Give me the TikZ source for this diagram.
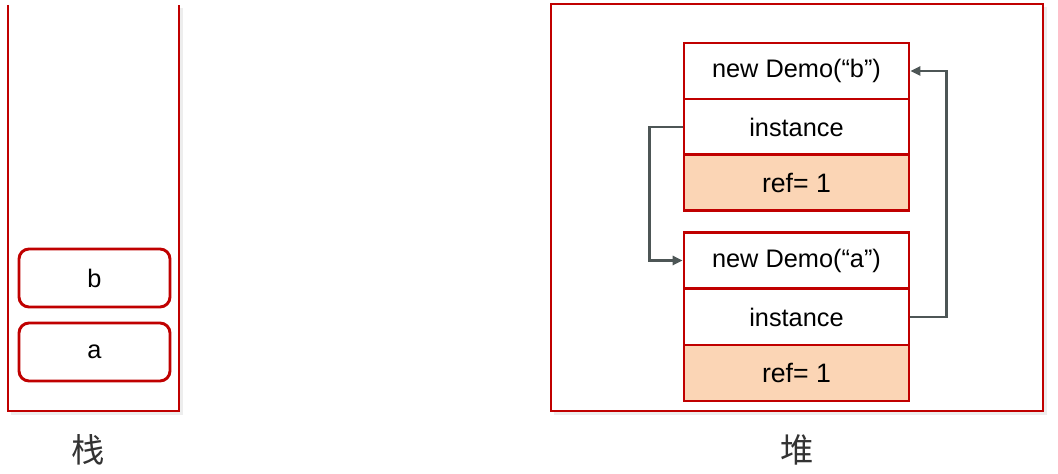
\documentclass[tikz,border=0pt]{standalone}
\usepackage{fontspec}
\setmainfont{Liberation Sans}
\newfontfamily\cjk{Noto Sans CJK SC}
\usetikzlibrary{arrows.meta}
\definecolor{boxred}{HTML}{C00000}
\definecolor{reffill}{HTML}{FBD5B5}
\definecolor{linkgray}{HTML}{4D5656}
\tikzset{
  cell/.style={draw=boxred,line width=2.2pt,minimum width=168.75pt,minimum height=42pt,inner sep=0pt,font=\fontsize{19}{22}\selectfont},
  refcell/.style={cell,fill=reffill,font=\fontsize{20}{23}\selectfont},
  slot/.style={draw=boxred,line width=2.2pt,rounded corners=7.5pt,minimum width=113.25pt,minimum height=43.5pt,inner sep=0pt,font=\fontsize{19}{22}\selectfont},
  link/.style={draw=linkgray,line width=1.6pt,-{Triangle[length=7.5pt,width=7pt]}},
  caption/.style={font=\cjk\fontsize{25}{28}\selectfont,text=black!80}
}
\begin{document}
\begin{tikzpicture}[x=0.75pt,y=0.75pt,yscale=-1,xscale=1]
\useasboundingbox (0,0) rectangle (1058,474);
% shadows
\fill[black!7] (11,8) rectangle (183,415);
\fill[black!7] (554,7) rectangle (1047,415);
% stack
\fill[white] (8,5) rectangle (179,411);
\draw[boxred,line width=2.2pt] (8,5) -- (8,411) -- (179,411) -- (179,5);
\node[slot] (sb) at (94.5,278) {b};
\node[slot] (sa) at (94.5,352) {a};
% heap
\node[draw=boxred,line width=2.2pt,fill=white,minimum width=369pt,minimum height=305.25pt] (heap) at (797,207.5) {};
\node[cell] (db) at (796.5,71) {new Demo(“b”)};
\node[cell] (ib) at (796.5,127) {instance};
\node[refcell] (rb) at (796.5,182.5) {ref= 1};
\node[cell] (da) at (796.5,260.5) {new Demo(“a”)};
\node[cell] (ia) at (796.5,317) {instance};
\node[refcell] (ra) at (796.5,373) {ref= 1};
% references
\draw[link] (ib.west) -- ++(-33,0) |- (da.west);
\draw[link] (ia.east) -- ++(36,0) |- (db.east);
% labels
\node[caption] (stacklabel) at (88,450) {栈};
\node[caption] (heaplabel) at (797,450) {堆};
\end{tikzpicture}
\end{document}
